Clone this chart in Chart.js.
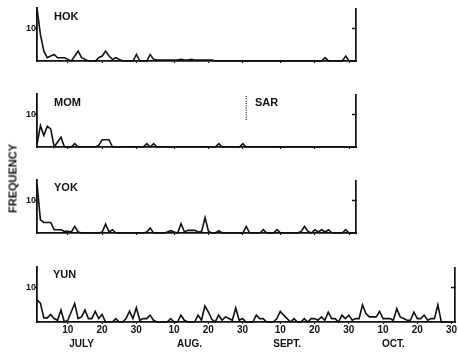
<!DOCTYPE html>
<html lang="en">
<head>
<meta charset="UTF-8" />
<title>Frequency</title>
<style>
  body { margin: 0; background: #fff; font-family: "Liberation Sans", Arial, sans-serif; }
  #fig { position: relative; width: 458px; height: 354px; overflow: hidden; }
  #fig canvas { position: absolute; left: 0; }
  .lbl { position: absolute; font-weight: bold; font-size: 11px; color: #111; line-height: 1; white-space: nowrap; }
  #freq { left: -27px; top: 173px; width: 80px; text-align: center; transform: rotate(-90deg); }
</style>
</head>
<body>
<div id="fig">
  <canvas id="hok" width="458" height="63" style="top:4px"></canvas>
  <canvas id="mom" width="458" height="63" style="top:90px"></canvas>
  <canvas id="yok" width="458" height="63" style="top:176px"></canvas>
  <canvas id="yun" width="458" height="91" style="top:263px"></canvas>
  <div class="lbl" style="left:54px;top:11px">HOK</div>
  <div class="lbl" style="left:54px;top:97px">MOM</div>
  <div class="lbl" style="left:255px;top:97px">SAR</div>
  <div class="lbl" style="left:54px;top:182px">YOK</div>
  <div class="lbl" style="left:53px;top:269px">YUN</div>
  <div class="lbl" id="freq">FREQUENCY</div>
</div>

<script src="https://cdn.jsdelivr.net/npm/chart.js"></script>
<script>
// daily counts, index 0 = 1 July
const hok = [
  16, 8, 3, 1, 1.5, 2, 1, 1, 1, 0.5,
  0, 1.5, 3, 1, 0.5, 0, 0, 0, 1, 1.5,
  3, 1.5, 0.5, 1, 0.5, 0, 0, 0, 0, 2,
  0, 0, 0, 2, 0.5, 0.3, 0.3, 0.3, 0.3, 0.3,
  0.3, 0.3, 0.5, 0.3, 0.3, 0.5, 0.3, 0.3, 0.3, 0.3,
  0.3, 0.3, 0, 0, 0, 0, 0, 0, 0, 0,
  0, 0, 0, 0, 0, 0, 0, 0, 0, 0,
  0, 0, 0, 0, 0, 0, 0, 0, 0, 0,
  0, 0, 0, 0, 1, 0, 0, 0, 0, 0,
  1.5, 0, 0, 0
];
const mom = [
  0.7, 6.5, 3.5, 6.3, 5.5, 0, 1.5, 3, 0, 0,
  0, 1, 0, 0, 0, 0, 0, 0, 0.5, 2.2,
  2.2, 2.2, 0, 0, 0, 0, 0, 0, 0, 0,
  0, 0, 1, 0, 1, 0, 0, 0, 0, 0,
  0, 0, 0, 0, 0, 0, 0, 0, 0, 0,
  0, 0, 0, 1, 0, 0, 0, 0, 0, 0,
  1, 0, 0, 0, 0, 0, 0, 0, 0, 0,
  0, 0, 0, 0, 0, 0, 0, 0, 0, 0,
  0, 0, 0, 0, 0, 0, 0, 0, 0, 0,
  0, 0, 0, 0
];
const yok = [
  15, 4, 3.2, 3.2, 3.2, 1, 1, 1, 0.5, 0.5,
  0.3, 2, 0.3, 0, 0, 0, 0, 0, 0, 0.3,
  2.7, 0.3, 1, 0, 0, 0, 0, 0, 0, 0,
  0, 0, 0.3, 1.5, 0, 0, 0, 0, 0.3, 0.7,
  0.3, 0, 2.8, 0.3, 0.8, 0.8, 0.8, 0.3, 0.5, 4.7,
  0.5, 0, 0, 0.7, 0, 0, 0, 0, 0, 0,
  0, 2, 0, 0, 0, 0, 1, 0, 0, 0,
  1, 0, 0, 0, 0, 0, 0, 0.5, 2, 0.5,
  0, 1, 0.3, 1, 0.3, 1, 0, 0, 0, 0,
  1, 0, 0, 0
];
const yun = [
  6.5, 5.5, 1.2, 1.2, 2.2, 1, 0.5, 3.5, 0, 0.5,
  3, 5.4, 1, 1.5, 3.5, 1, 1, 3.1, 1, 2.2,
  0, 0, 0, 1, 0, 0, 1, 3.2, 1, 4.2,
  0.5, 1, 1, 2, 0.5, 0, 0, 0, 0, 1,
  0, 0, 2, 0.5, 0, 0, 0, 2, 0.5, 4.7,
  3, 0.8, 0, 2, 0.5, 1.5, 1, 0.5, 4.1, 0.5,
  1, 0, 0, 0, 2, 1, 1, 0, 0, 0,
  1, 3.1, 2, 1, 0, 1, 0, 0, 1, 0,
  1, 1, 0.5, 1.5, 0.5, 2.9, 1, 1, 0, 2,
  1, 2, 0.5, 1, 1, 5, 2.5, 1.5, 1.5, 1.5,
  3.1, 1, 1, 1, 0.5, 3.9, 1.5, 1, 0.5, 0.5,
  2.9, 1, 1, 2, 0.5, 1, 1, 5, 0, 0,
  0, 0, 0
];

const tickDays = [9, 19, 29, 40, 50, 60, 71, 81, 91, 101, 111, 121];
const tickLabels = ['10', '20', '30', '10', '20', '30', '10', '20', '30', '10', '20', '30'];
const monthDays = [13, 44.5, 73, 104];
const monthLabels = ['JULY', 'AUG.', 'SEPT.', 'OCT.'];
const sarDay = 61;

const ink = '#111';
const font = 'Liberation Sans, Arial, sans-serif';

// dotted SAR marker in the MOM panel
const sarMarker = {
  id: 'sar',
  afterDatasetsDraw(chart) {
    const x = chart.scales.x.getPixelForValue(sarDay);
    const y = chart.scales.y;
    const ctx = chart.ctx;
    ctx.save();
    ctx.strokeStyle = ink;
    ctx.lineWidth = 1.2;
    ctx.setLineDash([1, 1.3]);
    ctx.beginPath();
    ctx.moveTo(x, y.getPixelForValue(15.5));
    ctx.lineTo(x, y.getPixelForValue(8));
    ctx.stroke();
    ctx.restore();
  }
};

function makePanel(id, values, xMax, right, bottom, extra) {
  const scales = {
    x: {
      type: 'linear', min: 0, max: xMax, weight: 0,
      afterBuildTicks: s => { s.ticks = tickDays.filter(d => d <= xMax).map(d => ({ value: d })); },
      afterFit: s => { s.height = bottom ? 14 : 6; },
      grid: { drawOnChartArea: false, tickLength: 2, color: ink, tickWidth: 1.2 },
      border: { display: true, color: ink, width: 1.7 },
      ticks: {
        display: bottom, padding: 0, color: ink, maxRotation: 0, autoSkip: false,
        font: { family: font, size: 10, weight: 'bold' },
        callback: v => tickLabels[tickDays.indexOf(v)]
      }
    },
    y: {
      position: 'left', min: 0, max: 16,
      afterBuildTicks: s => { s.ticks = [{ value: 10 }]; },
      afterFit: s => { s.width = 37; },
      grid: { drawOnChartArea: false, tickLength: 2, color: ink, tickWidth: 1.2 },
      border: { display: true, color: ink, width: 1.8 },
      ticks: { padding: -1, color: ink, font: { family: font, size: 9, weight: 'bold' } }
    },
    yr: {
      position: 'right', min: 0, max: 16,
      afterBuildTicks: s => { s.ticks = [{ value: 10 }]; },
      afterFit: s => { s.width = right; },
      grid: { drawOnChartArea: false, tickLength: -4, color: ink, tickWidth: 1.5 },
      border: { display: true, color: ink, width: 1.7 },
      ticks: { display: false }
    }
  };
  if (bottom) {
    scales.xm = {
      type: 'linear', min: 0, max: xMax, position: 'bottom', weight: 1,
      afterBuildTicks: s => { s.ticks = monthDays.map(d => ({ value: d })); },
      afterFit: s => { s.height = 18; },
      grid: { display: false, drawTicks: false },
      border: { display: false },
      ticks: {
        padding: 2, color: ink, maxRotation: 0, autoSkip: false,
        font: { family: font, size: 10, weight: 'bold' },
        callback: v => monthLabels[monthDays.indexOf(v)]
      }
    };
  }
  return new Chart(document.getElementById(id), {
    type: 'line',
    data: {
      datasets: [{
        data: values.map((v, i) => ({ x: i, y: v })),
        xAxisID: 'x', yAxisID: 'y',
        borderColor: ink, borderWidth: 1.6, pointRadius: 0, tension: 0,
        fill: false, clip: false
      }]
    },
    options: {
      responsive: false, animation: false,
      layout: { padding: { top: 4, left: 0, right: 0, bottom: 0 } },
      plugins: { legend: { display: false }, tooltip: { enabled: false } },
      scales: scales
    },
    plugins: extra || []
  });
}

makePanel('hok', hok, 93, 102, false);
makePanel('mom', mom, 93, 102, false, [sarMarker]);
makePanel('yok', yok, 93, 102, false);
makePanel('yun', yun, 122, 3, true);
</script>
</body>
</html>
